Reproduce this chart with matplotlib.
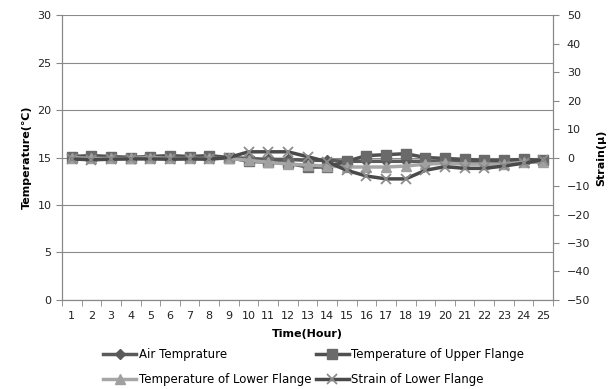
import matplotlib.pyplot as plt
from matplotlib.ticker import MultipleLocator, FixedLocator

hours = list(range(1, 26))
air_temp = [15.0, 15.0, 15.0, 15.0, 15.0, 15.0, 15.0, 15.0, 15.0, 14.9,
            14.8, 14.8, 14.7, 14.7, 14.6, 14.6, 14.6, 14.6, 14.6, 14.6,
            14.6, 14.6, 14.6, 14.6, 14.6]
upper_flange = [15.1, 15.2, 15.1, 15.0, 15.1, 15.2, 15.1, 15.2, 15.0, 14.6,
                14.5, 14.4, 14.0, 14.0, 14.6, 15.2, 15.3, 15.4, 15.0, 14.9,
                14.8, 14.7, 14.7, 14.8, 14.7]
lower_flange = [15.0, 14.9, 14.9, 14.9, 15.0, 14.9, 14.9, 14.9, 14.9, 14.7,
                14.5, 14.3, 14.2, 14.1, 14.0, 14.0, 14.0, 14.1, 14.3, 14.4,
                14.3, 14.3, 14.3, 14.5, 14.5]
strain = [-0.5, -0.8, -0.6, -0.5, -0.5, -0.6, -0.5, -0.6, 0.0, 2.0,
          2.0, 2.0, 0.3, -1.5, -4.5, -6.5, -7.5, -7.5, -4.5, -3.2,
          -3.8, -3.8, -3.0, -2.0, -0.8]

plt.rcParams['font.family'] = 'DejaVu Sans'
plt.rcParams['font.size'] = 8

fig = plt.figure(figsize=(6.15, 3.89), dpi=100)
ax1 = fig.add_axes([0.1008, 0.2288, 0.7984, 0.7326])
ax2 = ax1.twinx()

l1, = ax1.plot(hours, air_temp, color='#5a5a5a', lw=2.5, marker='D', ms=5,
               label='Air Temprature')
l2, = ax1.plot(hours, upper_flange, color='#505050', lw=2.5, marker='s', ms=7,
               mfc='#6a6a6a', mec='#6a6a6a', label='Temperature of Upper Flange')
l3, = ax1.plot(hours, lower_flange, color='#a6a6a6', lw=2.5, marker='^', ms=7,
               mfc='#a0a0a0', mec='#a0a0a0', label='Temperature of Lower Flange')
l4, = ax2.plot(hours, strain, color='#4a4a4a', lw=2.5, marker='x', ms=6.5, mew=1.3,
               mec='#8c8c8c', label='Strain of Lower Flange')

ax1.set_xlim(0.5, 25.5)
ax1.set_ylim(0, 30)
ax2.set_ylim(-50, 50)
ax1.yaxis.set_major_locator(MultipleLocator(5))
ax2.yaxis.set_major_locator(MultipleLocator(10))
ax1.set_xticks(hours)
ax1.xaxis.set_minor_locator(FixedLocator([h + 0.5 for h in range(0, 26)]))
ax1.tick_params(axis='x', which='major', length=0, pad=8, colors='#222222')
ax1.tick_params(axis='x', which='minor', length=4, color='#888888')
ax1.tick_params(axis='y', length=4, color='#888888', colors='#222222')
ax2.tick_params(axis='y', length=4, color='#888888', colors='#222222', pad=6)
ax1.grid(axis='y', color='#8a8a8a', lw=0.8)
ax1.set_axisbelow(True)

for ax in (ax1, ax2):
    ax.spines['top'].set_visible(False)
    for side in ('left', 'right', 'bottom'):
        ax.spines[side].set_color('#888888')

ax1.set_ylabel('Temperature(\u2103)', fontweight='bold', fontsize=8)
ax2.set_ylabel('Strain(\u03bc)', fontweight='bold', fontsize=8)
ax1.set_xlabel('Time(Hour)', fontweight='bold', fontsize=8, labelpad=6)

fig.legend([l1, l3, l2, l4], [l1.get_label(), l3.get_label(), l2.get_label(), l4.get_label()],
           ncol=2, loc='lower center', bbox_to_anchor=(0.51, -0.02), frameon=False,
           fontsize=8.5, handlelength=2.8, columnspacing=0.4, handletextpad=0.2,
           labelspacing=1.0)

fig.savefig('out.png', dpi=100)
